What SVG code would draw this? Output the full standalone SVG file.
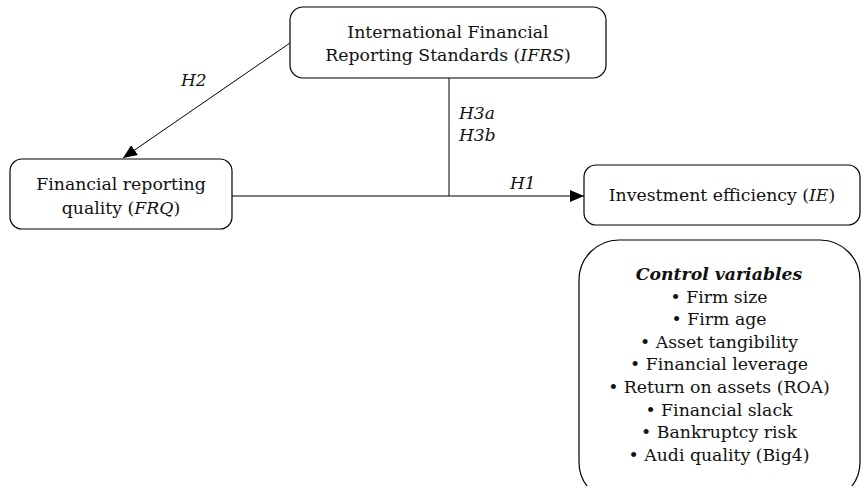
<svg xmlns="http://www.w3.org/2000/svg" width="862" height="486" viewBox="0 0 862 486">
<defs>
<style>
.box{fill:#fff;stroke:#000;stroke-width:1.2}
.t{font-family:"DejaVu Serif","Liberation Serif",serif;font-size:17.3px;fill:#111;text-anchor:middle}
.lbl{font-family:"DejaVu Serif","Liberation Serif",serif;font-size:17px;font-style:italic;fill:#111}
.ln{stroke:#000;stroke-width:1;fill:none}
</style>
<marker id="ah" viewBox="0 0 14 12" refX="14" refY="6" markerWidth="14" markerHeight="12" markerUnits="userSpaceOnUse" orient="auto">
<path d="M0,0 L14,6 L0,12 z" fill="#000"/>
</marker>
</defs>
<rect width="862" height="486" fill="#fff"/>
<g id="connectors">
<line class="ln" x1="290" y1="43" x2="123" y2="158" marker-end="url(#ah)"/>
<line class="ln" x1="232" y1="196" x2="584" y2="196" marker-end="url(#ah)"/>
<line class="ln" x1="449" y1="78" x2="449" y2="196"/>
<text class="lbl" x="181" y="86">H2</text>
<text class="lbl" x="459" y="119">H3a</text>
<text class="lbl" x="459" y="141">H3b</text>
<text class="lbl" x="510" y="189">H1</text>
</g>
<g id="ifrs">
<rect class="box" x="290" y="7" width="316" height="71" rx="13"/>
<text class="t" x="448" y="38">International Financial</text>
<text class="t" x="448" y="61">Reporting Standards (<tspan font-style="italic">IFRS</tspan>)</text>
</g>
<g id="frq">
<rect class="box" x="10" y="159" width="222" height="70" rx="12"/>
<text class="t" x="121" y="190">Financial reporting</text>
<text class="t" x="121" y="214">quality (<tspan font-style="italic">FRQ</tspan>)</text>
</g>
<g id="ie">
<rect class="box" x="584" y="165" width="276" height="60" rx="12"/>
<text class="t" x="722" y="201">Investment efficiency (<tspan font-style="italic">IE</tspan>)</text>
</g>
<g id="controls">
<rect class="box" x="579" y="240" width="281" height="262" rx="40"/>
<text class="t" x="719" y="280" font-weight="bold" font-style="italic">Control variables</text>
<text class="t" x="719" y="302.6">• Firm size</text>
<text class="t" x="719" y="325.2">• Firm age</text>
<text class="t" x="719" y="347.8">• Asset tangibility</text>
<text class="t" x="719" y="370.4">• Financial leverage</text>
<text class="t" x="719" y="393">• Return on assets (ROA)</text>
<text class="t" x="719" y="415.6">• Financial slack</text>
<text class="t" x="719" y="438.2">• Bankruptcy risk</text>
<text class="t" x="719" y="460.8">• Audi quality (Big4)</text>
</g>
</svg>
